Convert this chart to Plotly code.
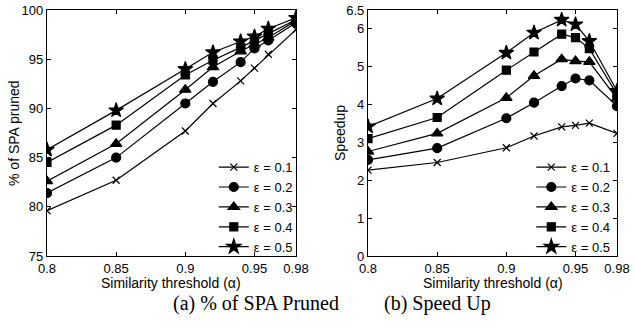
import plotly.graph_objects as go
from plotly.subplots import make_subplots

alpha = [0.8, 0.85, 0.9, 0.92, 0.94, 0.95, 0.96, 0.98]
eps_labels = ["ε = 0.1", "ε = 0.2", "ε = 0.3", "ε = 0.4", "ε = 0.5"]

pruned_01 = [79.6, 82.7, 87.7, 90.5, 92.8, 94.1, 95.5, 98.0]
pruned_02 = [81.4, 85.0, 90.5, 92.7, 94.7, 96.1, 96.9, 98.7]
pruned_03 = [82.6, 86.4, 91.9, 94.2, 95.8, 96.5, 97.2, 98.9]
pruned_04 = [84.5, 88.3, 93.4, 94.9, 96.2, 96.9, 97.6, 99.0]
pruned_05 = [85.8, 89.8, 94.0, 95.7, 96.8, 97.3, 98.1, 99.2]

speed_01 = [2.27, 2.47, 2.86, 3.17, 3.41, 3.45, 3.51, 3.24]
speed_02 = [2.54, 2.85, 3.64, 4.05, 4.49, 4.69, 4.64, 3.96]
speed_03 = [2.76, 3.24, 4.18, 4.76, 5.20, 5.15, 5.13, 4.16]
speed_04 = [3.10, 3.66, 4.91, 5.39, 5.86, 5.77, 5.48, 4.27]
speed_05 = [3.42, 4.16, 5.37, 5.90, 6.24, 6.12, 5.68, 4.36]

x_ticks = [0.8, 0.85, 0.9, 0.95, 0.98]
x_ticklabels = ["0.8", "0.85", "0.9", "0.95", "0.98"]
left_yticks = [75, 80, 85, 90, 95, 100]
right_yticks = [0, 1, 2, 3, 4, 5, 6, 6.5]

x_title = "Similarity threshold (α)"
left_ytitle = "% of SPA pruned"
right_ytitle = "Speedup"
captions = ["(a) % of SPA Pruned", "(b) Speed Up"]

pruned = [pruned_01, pruned_02, pruned_03, pruned_04, pruned_05]
speed = [speed_01, speed_02, speed_03, speed_04, speed_05]
symbols = ["x-thin", "circle", "triangle-up", "square", "star"]
sizes = [7, 9, 10, 8, 11]

fig = make_subplots(rows=1, cols=2, horizontal_spacing=0.1264)

for i in range(5):
    mk = dict(symbol=symbols[i], size=sizes[i], color="black",
              line=dict(color="black", width=1.2))
    fig.add_trace(go.Scatter(x=alpha, y=pruned[i], mode="lines+markers",
                             name=eps_labels[i], line=dict(color="black", width=1.2),
                             marker=mk, legend="legend"), row=1, col=1)
    fig.add_trace(go.Scatter(x=alpha, y=speed[i], mode="lines+markers",
                             name=eps_labels[i], line=dict(color="black", width=1.2),
                             marker=mk, legend="legend2"), row=1, col=2)

font_ax = dict(family="Liberation Sans, Arial, sans-serif", size=14, color="black")
font_tick = dict(family="Liberation Sans, Arial, sans-serif", size=13, color="black")
axcommon = dict(showline=True, linecolor="black", linewidth=1.2, mirror="ticks",
                ticks="inside", ticklen=4, tickcolor="black", showgrid=False,
                zeroline=False, tickfont=font_tick, automargin=False,
                ticklabeloverflow="allow")

for c in (1, 2):
    fig.update_xaxes(range=[0.8, 0.98], tickvals=x_ticks, ticktext=x_ticklabels,
                     ticklabelstandoff=0, row=1, col=c, **axcommon)
fig.update_yaxes(range=[75, 100], tickvals=left_yticks, row=1, col=1, **axcommon)
fig.update_yaxes(range=[0, 6.5], tickvals=right_yticks, row=1, col=2, **axcommon)

leg = dict(font=dict(family="Liberation Sans, Arial, sans-serif", size=13, color="black"),
           bgcolor="rgba(0,0,0,0)", borderwidth=0,
           xanchor="right", yanchor="bottom", tracegroupgap=0, itemwidth=30)
fig.update_layout(
    legend=dict(x=0.44, y=-0.025, **leg),
    legend2=dict(x=0.997, y=-0.025, **leg),
    width=634, height=326,
    margin=dict(l=47, r=17, t=10, b=70, autoexpand=False),
    paper_bgcolor="white", plot_bgcolor="white",
    font=font_ax,
)

# axis titles
for xc in (0.2184, 0.7816):
    fig.add_annotation(text=x_title, x=xc, y=-0.108, xref="paper", yref="paper",
                       showarrow=False, font=font_ax, yanchor="middle", xanchor="center")
fig.add_annotation(text=left_ytitle, x=-0.0579, y=0.5, xref="paper", yref="paper",
                   showarrow=False, font=font_ax, textangle=-90,
                   xanchor="center", yanchor="middle")
fig.add_annotation(text=right_ytitle, x=0.514, y=0.5, xref="paper", yref="paper",
                   showarrow=False, font=font_ax, textangle=-90,
                   xanchor="center", yanchor="middle")

cap_font = dict(family="Liberation Serif, Times New Roman, serif", size=20, color="black")
fig.add_annotation(text=captions[0], x=0.2184, y=-0.195, xref="paper", yref="paper",
                   showarrow=False, font=cap_font, yanchor="middle")
fig.add_annotation(text=captions[1], x=0.7816, y=-0.195, xref="paper", yref="paper",
                   showarrow=False, font=cap_font, yanchor="middle")

fig.write_html("out.html", config={"displayModeBar": False},
               post_script="document.body.style.margin='0px';document.body.style.overflow='hidden';")
